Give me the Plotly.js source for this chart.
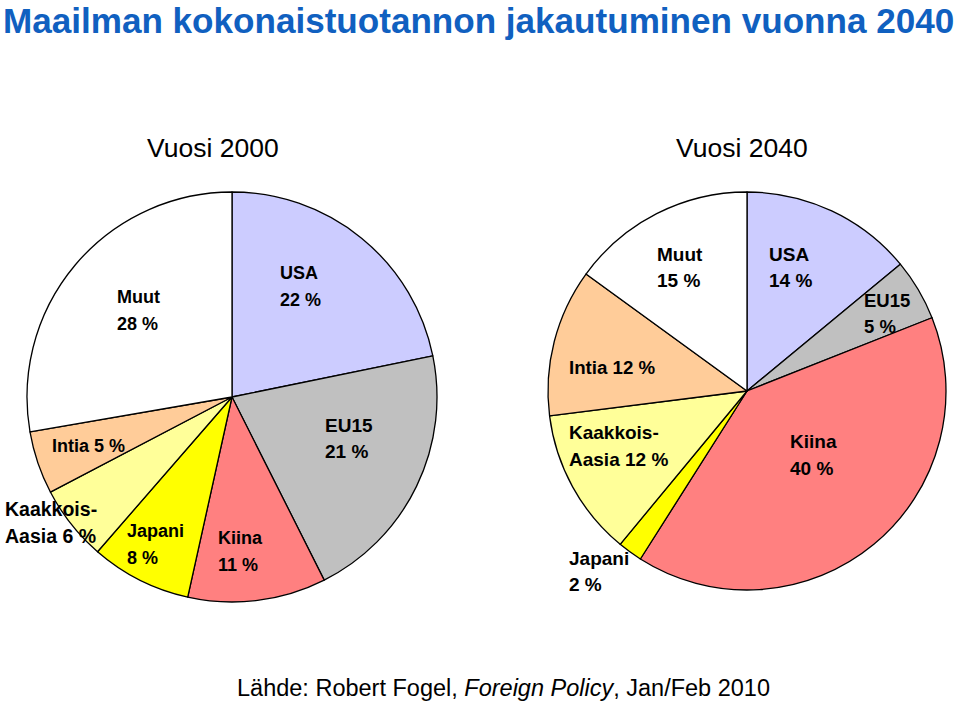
<!DOCTYPE html>
<html>
<head>
<meta charset="utf-8">
<script src="https://cdn.plot.ly/plotly-3.0.1.min.js"></script>
<style>html,body{margin:0;padding:0;background:#fff;}#chart{width:960px;height:703px;}</style>
</head>
<body>
<div id="chart"></div>
<script>
// Data
var categories2000 = ["USA", "EU15", "Kiina", "Japani", "Kaakkois-Aasia", "Intia", "Muut"];
var values2000 = [22, 21, 11, 8, 6, 5, 28];
var categories2040 = ["USA", "EU15", "Kiina", "Japani", "Kaakkois-Aasia", "Intia", "Muut"];
var values2040 = [14, 5, 40, 2, 12, 12, 15];
var colors = ["#ccccff", "#c0c0c0", "#ff8080", "#ffff00", "#ffff99", "#ffcc99", "#ffffff"];
var subtitles = ["Vuosi 2000", "Vuosi 2040"];
var mainTitle = "Maailman kokonaistuotannon jakautuminen vuonna 2040";
var sourceText = "Lähde: Robert Fogel, <i>Foreign Policy</i>, Jan/Feb 2010";

// Label line layouts (display names split into lines)
var displayNames = {"USA": ["USA"], "EU15": ["EU15"], "Kiina": ["Kiina"], "Japani": ["Japani"],
  "Kaakkois-Aasia": ["Kaakkois-", "Aasia"], "Intia": ["Intia"], "Muut": ["Muut"]};

// label placement: [x, y of first line (px), font size, joinValueOnLastLine]
var labelPos2000 = {
  "USA": [278, 273, 18, false],
  "EU15": [323, 425, 19, false],
  "Kiina": [216, 538, 18, false],
  "Japani": [125, 531, 18, false],
  "Kaakkois-Aasia": [3, 509, 19.5, true],
  "Intia": [50, 446, 18, true],
  "Muut": [115, 297, 18, false]
};
var labelPos2040 = {
  "USA": [767, 254, 19, false],
  "EU15": [862, 300, 18.5, false],
  "Kiina": [788, 442, 19, false],
  "Japani": [567, 558, 19, false],
  "Kaakkois-Aasia": [567, 433, 19, true],
  "Intia": [567, 367, 18.7, true],
  "Muut": [655, 254, 19, false]
};

var W = 960, H = 703;
function px(x) { return x / W; }
function py(y) { return 1 - y / H; }

function pieTrace(labels, values, cx, cy, r) {
  return {
    type: "pie", labels: labels, values: values, sort: false,
    direction: "clockwise", rotation: 0,
    marker: {colors: colors, line: {color: "#000000", width: 1.3}},
    textinfo: "none", hoverinfo: "label+value", showlegend: false,
    domain: {x: [px(cx - r), px(cx + r)], y: [py(cy + r), py(cy - r)]}
  };
}

var annotations = [];
function addLabels(cats, vals, pos) {
  for (var i = 0; i < cats.length; i++) {
    var p = pos[cats[i]];
    var lines = displayNames[cats[i]].slice();
    var valStr = vals[i] + " %";
    if (p[3]) { lines[lines.length - 1] += " " + valStr; } else { lines.push(valStr); }
    for (var j = 0; j < lines.length; j++) {
      annotations.push({
        text: "<b>" + lines[j] + "</b>", x: px(p[0]), y: py(p[1] + j * 26.5),
        xref: "paper", yref: "paper", xanchor: "left", yanchor: "middle",
        showarrow: false,
        font: {family: "Liberation Sans, Arial, sans-serif", size: p[2], color: "#000000"}
      });
    }
  }
}
addLabels(categories2000, values2000, labelPos2000);
addLabels(categories2040, values2040, labelPos2040);

annotations.push({text: "<b>" + mainTitle + "</b>", x: px(2), y: 1, xref: "paper", yref: "paper",
  xanchor: "left", yanchor: "top", showarrow: false, borderpad: 0,
  font: {family: "Liberation Sans, Arial, sans-serif", size: 35.1, color: "#1060c0"}});
annotations.push({text: subtitles[0], x: px(213), y: py(148), xref: "paper", yref: "paper",
  xanchor: "center", yanchor: "middle", showarrow: false,
  font: {family: "Liberation Sans, Arial, sans-serif", size: 26.5, color: "#000000"}});
annotations.push({text: subtitles[1], x: px(742), y: py(148), xref: "paper", yref: "paper",
  xanchor: "center", yanchor: "middle", showarrow: false,
  font: {family: "Liberation Sans, Arial, sans-serif", size: 26.5, color: "#000000"}});
annotations.push({text: sourceText, x: px(503), y: py(688), xref: "paper", yref: "paper",
  xanchor: "center", yanchor: "middle", showarrow: false,
  font: {family: "Liberation Sans, Arial, sans-serif", size: 23.5, color: "#000000"}});

var data = [
  pieTrace(categories2000, values2000, 232, 397, 205),
  pieTrace(categories2040, values2040, 747, 391, 199)
];
var layout = {
  width: W, height: H, margin: {l: 0, r: 0, t: 0, b: 0},
  paper_bgcolor: "#ffffff", plot_bgcolor: "#ffffff",
  annotations: annotations, showlegend: false
};
Plotly.newPlot("chart", data, layout, {displayModeBar: false, staticPlot: true});
</script>
</body>
</html>
